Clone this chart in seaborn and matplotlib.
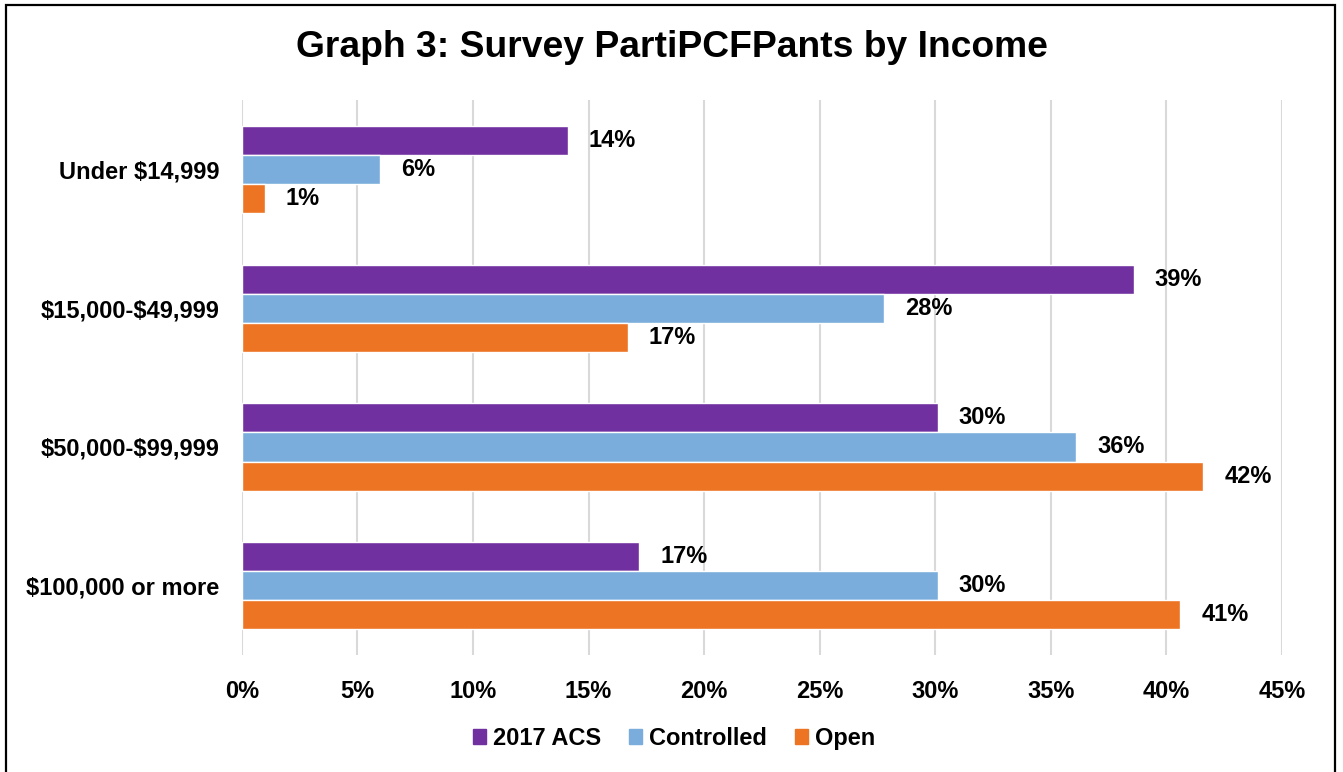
import numpy as np
import pandas as pd
import matplotlib.pyplot as plt
import seaborn as sns
from matplotlib.patches import Rectangle

sns.set_style("white")
plt.rcParams['font.family'] = ['Liberation Sans', 'DejaVu Sans']
plt.rcParams['font.weight'] = 'bold'
plt.rcParams['text.parse_math'] = False
plt.rcParams['text.color'] = 'black'
plt.rcParams['xtick.color'] = 'black'
plt.rcParams['ytick.color'] = 'black'

income = ["Under $14,999", "$15,000-$49,999", "$50,000-$99,999", "$100,000 or more"]
acs_2017 = [14.1, 38.6, 30.1, 17.2]
controlled = [6.0, 27.8, 36.1, 30.1]
open_pct = [1.0, 16.7, 41.6, 40.6]
series = ["2017 ACS", "Controlled", "Open"]
colors = ["#7030A0", "#7AADDC", "#ED7422"]
xticks = [0, 5, 10, 15, 20, 25, 30, 35, 40, 45]

df = pd.DataFrame({
    "income": income * 3,
    "series": np.repeat(series, len(income)),
    "pct": acs_2017 + controlled + open_pct,
})

fig = plt.figure(figsize=(13.43, 7.72), dpi=100)
ax = fig.add_axes([0.180, 0.1516, 0.7746, 0.7184])

sns.barplot(data=df, x="pct", y="income", hue="series", order=income,
            hue_order=series, palette=colors, orient="h", width=0.63,
            saturation=1, ax=ax, legend=True)

for cont in ax.containers:
    ax.bar_label(cont, labels=[f"{round(v):.0f}%" for v in cont.datavalues],
                 padding=15, fontsize=17, fontweight="bold", color="black")

ax.set_xlim(0, 45)
ax.set_ylim(3.5, -0.5)
ax.set_xticks(xticks)
ax.set_xticklabels([f"{t}%" for t in xticks])
ax.xaxis.grid(True, color="#d9d9d9", linewidth=1.5)
ax.set_axisbelow(True)
for s in ax.spines.values():
    s.set_visible(False)
ax.tick_params(axis="x", length=0, pad=18, labelsize=17)
ax.tick_params(axis="y", length=0, pad=16, labelsize=17)
for lab in ax.get_xticklabels() + ax.get_yticklabels():
    lab.set_fontweight("bold")
ax.set_xlabel("")
ax.set_ylabel("")

ax.legend_.remove()
handles = [Rectangle((0, 0), 1, 1, color=c) for c in colors]
fig.legend(handles, series, loc="center", bbox_to_anchor=(0.502, 0.044), ncol=3,
           frameon=False, handlelength=0.55, handleheight=0.6,
           handletextpad=0.3, columnspacing=1.2, prop={"weight": "bold", "size": 17})

fig.suptitle("Graph 3: Survey PartiPCFPants by Income", y=0.938, va="center",
             fontsize=26.8, fontweight="bold", color="black")

fig.patches.append(Rectangle((0.0045, -0.05), 0.9895, 1.0435, transform=fig.transFigure,
                             fill=False, edgecolor="black", linewidth=1.6))

fig.savefig("out.png", dpi=100)
